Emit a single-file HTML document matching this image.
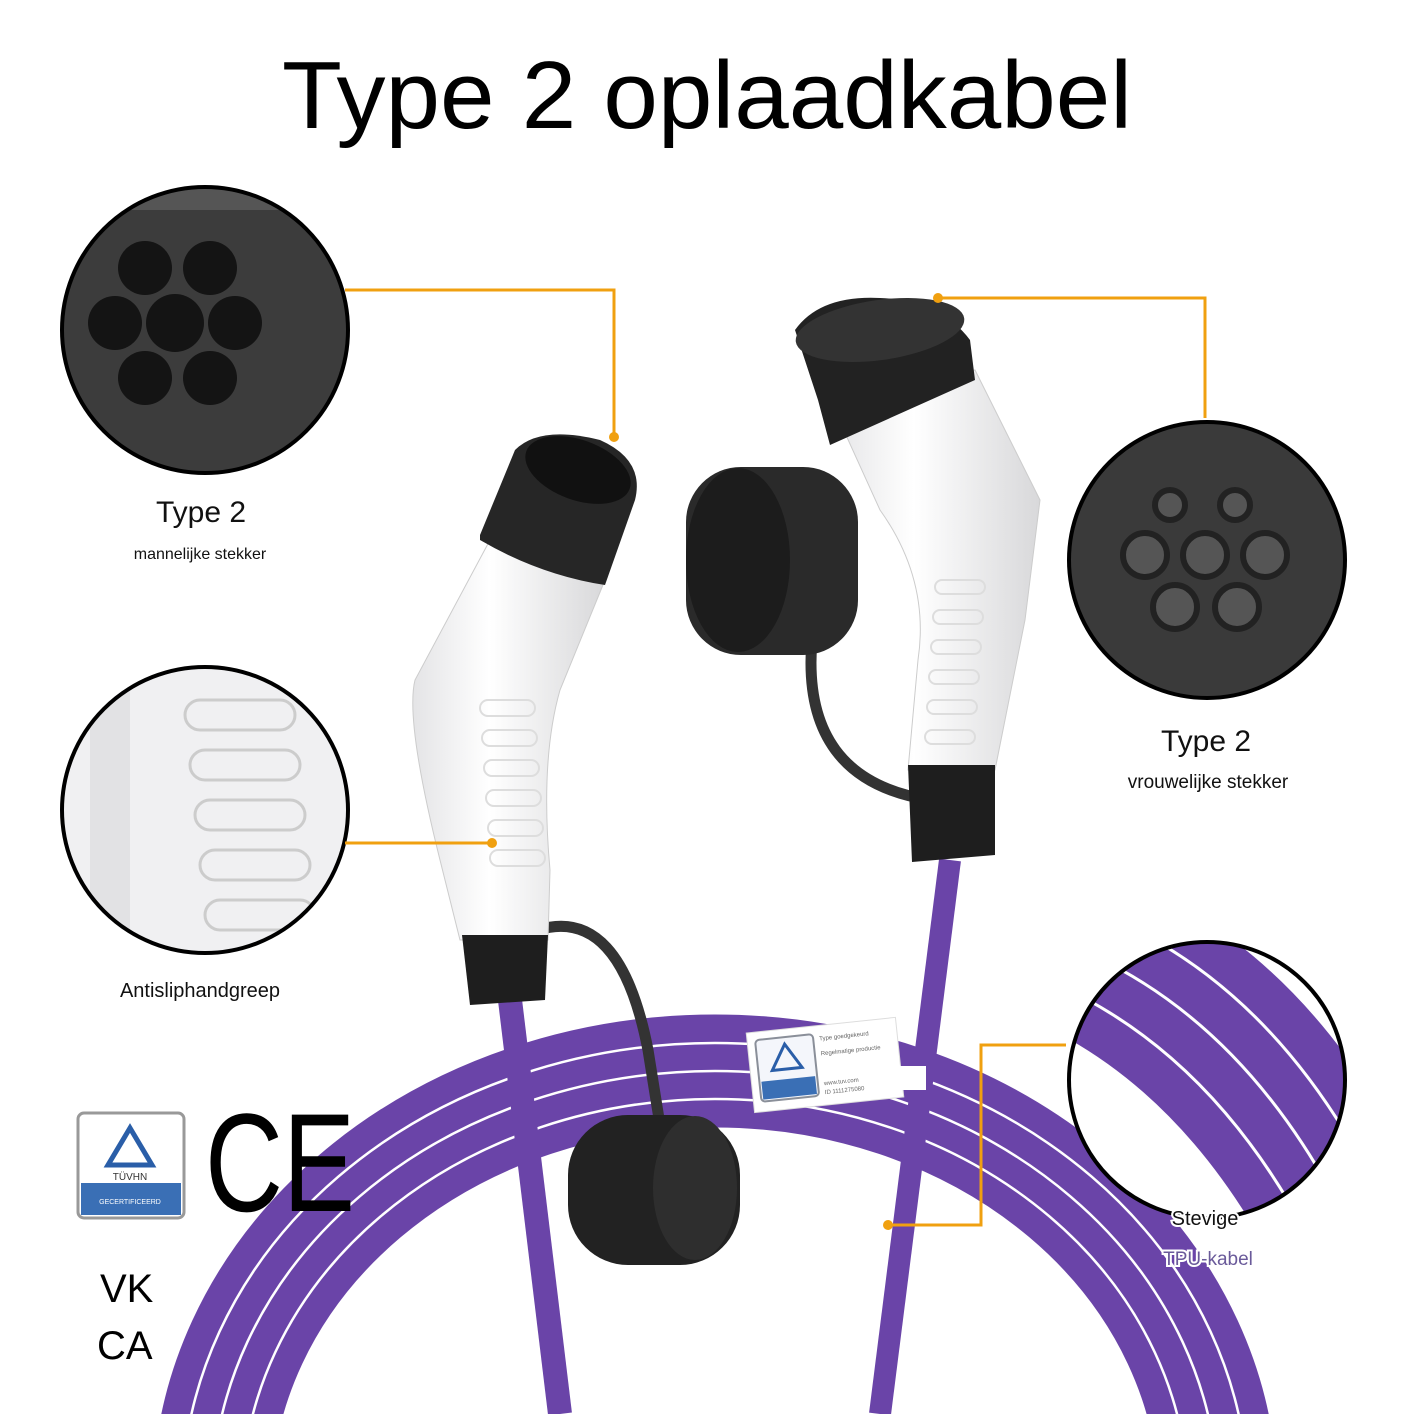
<!DOCTYPE html>
<html><head><meta charset="utf-8"><style>
html,body{margin:0;padding:0;background:#fff;width:1414px;height:1414px;overflow:hidden;}
body{position:relative;font-family:"Liberation Sans",sans-serif;}
svg{display:block}
</style></head><body>
<svg width="1414" height="1414" viewBox="0 0 1414 1414" xmlns="http://www.w3.org/2000/svg" style="position:absolute;left:0;top:0;overflow:hidden">
<defs>
<clipPath id="c1"><circle cx="205" cy="330" r="143"/></clipPath>
<clipPath id="c2"><circle cx="205" cy="810" r="143"/></clipPath>
<clipPath id="c3"><circle cx="1207" cy="560" r="138"/></clipPath>
<clipPath id="c4"><circle cx="1207" cy="1080" r="138"/></clipPath>
<clipPath id="pg"><rect x="0" y="0" width="1414" height="1414"/></clipPath>
<linearGradient id="wh" x1="0" x2="1"><stop offset="0" stop-color="#e4e4e6"/><stop offset=".4" stop-color="#fff"/><stop offset="1" stop-color="#d8d8da"/></linearGradient>
</defs>
<g clip-path="url(#pg)">
<text x="707" y="128" text-anchor="middle" font-size="96" textLength="850" lengthAdjust="spacingAndGlyphs" font-family="Liberation Sans,sans-serif" fill="#000">Type 2 oplaadkabel</text>

<!-- coils -->
<g fill="none" stroke="#6a44a8" stroke-width="29">
<ellipse cx="715" cy="1500" rx="548" ry="471"/>
<ellipse cx="715" cy="1500" rx="518" ry="443"/>
<ellipse cx="715" cy="1500" rx="488" ry="415"/>
<ellipse cx="715" cy="1500" rx="458" ry="387"/>
</g>
<g fill="none" stroke="#fff" stroke-width="2.5">
<ellipse cx="715" cy="1500" rx="533" ry="457"/>
<ellipse cx="715" cy="1500" rx="503" ry="429"/>
<ellipse cx="715" cy="1500" rx="473" ry="401"/>
</g>
<!-- label on coil -->
<g transform="rotate(-6 825 1065)">
<rect x="750" y="1025" width="150" height="80" fill="#fff" stroke="#ddd"/>
<rect x="758" y="1033" width="58" height="62" rx="4" fill="#f4f6fb" stroke="#8a8f99" stroke-width="2"/>
<rect x="760" y="1075" width="54" height="18" fill="#3a6fb5"/>
<path d="M787 1040 L772 1065 L802 1065 Z" fill="none" stroke="#2a5ea8" stroke-width="3"/>
<g font-size="6" fill="#666"><text x="822" y="1040">Type goedgekeurd</text><text x="822" y="1055">Regelmatige productie</text><text x="822" y="1085">www.tuv.com</text><text x="822" y="1094">ID 1111275080</text></g>
</g>

<!-- cables -->
<path d="M510 1000 L560 1414" stroke="#6a44a8" stroke-width="24" fill="none"/>
<path d="M950 860 L880 1414" stroke="#6a44a8" stroke-width="22" fill="none"/>
<rect x="900" y="1066" width="26" height="24" fill="#fff"/>
<path d="M538 930 Q620 905 648 1050 L660 1125" stroke="#333" stroke-width="11" fill="none"/>
<path d="M812 640 Q800 780 930 800" stroke="#333" stroke-width="11" fill="none"/>
<!-- bottom cap -->
<rect x="568" y="1115" width="172" height="150" rx="60" fill="#222"/>
<ellipse cx="695" cy="1188" rx="42" ry="72" fill="#2e2e2e"/>

<!-- left plug -->
<path d="M490 540 L605 580 L560 690 Q540 760 550 870 L548 940 L460 940 L440 860 Q405 720 415 680 Z" fill="url(#wh)" stroke="#ccc"/>
<g fill="none" stroke="#ddd" stroke-width="2"><rect x="480" y="700" width="55" height="16" rx="8"/><rect x="482" y="730" width="55" height="16" rx="8"/><rect x="484" y="760" width="55" height="16" rx="8"/><rect x="486" y="790" width="55" height="16" rx="8"/><rect x="488" y="820" width="55" height="16" rx="8"/><rect x="490" y="850" width="55" height="16" rx="8"/></g>
<path d="M462 935 L548 935 L545 1000 L470 1005 Z" fill="#1e1e1e"/>
<path d="M480 535 L515 450 Q540 425 600 440 Q645 460 635 500 L605 585 Q540 575 480 540 Z" fill="#262626"/>
<ellipse cx="578" cy="470" rx="55" ry="30" fill="#111" transform="rotate(20 578 470)"/>

<!-- top cap -->
<rect x="686" y="467" width="172" height="188" rx="55" fill="#2a2a2a"/>
<ellipse cx="738" cy="560" rx="52" ry="92" fill="#1c1c1c"/>

<!-- right plug -->
<path d="M830 400 L975 370 L1040 500 L1025 620 L995 770 L908 770 L918 660 Q930 580 880 510 Z" fill="url(#wh)" stroke="#ccc"/>
<g fill="none" stroke="#ddd" stroke-width="2"><rect x="935" y="580" width="50" height="14" rx="7"/><rect x="933" y="610" width="50" height="14" rx="7"/><rect x="931" y="640" width="50" height="14" rx="7"/><rect x="929" y="670" width="50" height="14" rx="7"/><rect x="927" y="700" width="50" height="14" rx="7"/><rect x="925" y="730" width="50" height="14" rx="7"/></g>
<path d="M908 765 L995 765 L995 855 L912 862 Z" fill="#1e1e1e"/>
<path d="M795 330 Q820 295 880 298 Q940 300 970 340 L975 380 L830 445 L818 400 Z" fill="#222"/>
<ellipse cx="880" cy="330" rx="85" ry="30" fill="#333" transform="rotate(-8 880 330)"/>

<!-- circles -->
<g clip-path="url(#c1)"><rect x="50" y="180" width="320" height="310" fill="#3c3c3c"/><rect x="50" y="180" width="320" height="30" fill="#555"/>
<g fill="#141414"><circle cx="145" cy="268" r="27"/><circle cx="210" cy="268" r="27"/><circle cx="115" cy="323" r="27"/><circle cx="175" cy="323" r="29"/><circle cx="235" cy="323" r="27"/><circle cx="145" cy="378" r="27"/><circle cx="210" cy="378" r="27"/></g></g>
<circle cx="205" cy="330" r="143" fill="none" stroke="#000" stroke-width="4"/>
<g clip-path="url(#c2)"><rect x="50" y="660" width="320" height="310" fill="#f0f0f2"/><rect x="90" y="660" width="40" height="310" fill="#e2e2e4"/>
<g fill="none" stroke="#ccc" stroke-width="3"><rect x="185" y="700" width="110" height="30" rx="15"/><rect x="190" y="750" width="110" height="30" rx="15"/><rect x="195" y="800" width="110" height="30" rx="15"/><rect x="200" y="850" width="110" height="30" rx="15"/><rect x="205" y="900" width="110" height="30" rx="15"/></g></g>
<circle cx="205" cy="810" r="143" fill="none" stroke="#000" stroke-width="4"/>
<g clip-path="url(#c3)"><rect x="1060" y="415" width="300" height="290" fill="#3a3a3a"/>
<g fill="#555" stroke="#222" stroke-width="6"><circle cx="1170" cy="505" r="15"/><circle cx="1235" cy="505" r="15"/><circle cx="1145" cy="555" r="22"/><circle cx="1205" cy="555" r="22"/><circle cx="1265" cy="555" r="22"/><circle cx="1175" cy="607" r="22"/><circle cx="1237" cy="607" r="22"/></g></g>
<circle cx="1207" cy="560" r="138" fill="none" stroke="#000" stroke-width="4"/>
<g clip-path="url(#c4)"><rect x="1060" y="935" width="300" height="290" fill="#fff"/>
<g fill="none" stroke="#6a44a8" stroke-width="44">
<path d="M1095 890 Q1290 960 1400 1190"/>
<path d="M1065 922 Q1260 990 1370 1222"/>
<path d="M1035 954 Q1230 1022 1340 1254"/>
<path d="M1005 986 Q1200 1054 1310 1286"/>
</g>
<g fill="none" stroke="#fff" stroke-width="3">
<path d="M1080 906 Q1275 975 1385 1206"/>
<path d="M1050 938 Q1245 1006 1355 1238"/>
<path d="M1020 970 Q1215 1038 1325 1270"/>
</g></g>
<circle cx="1207" cy="1080" r="138" fill="none" stroke="#000" stroke-width="4"/>

<!-- connectors -->
<g stroke="#f0a010" stroke-width="3" fill="none">
<path d="M345 290 H614 V437"/><path d="M345 843 H492"/><path d="M938 298 H1205 V418"/><path d="M1066 1045 H981 V1225 H888"/></g>
<g fill="#f0a010"><circle cx="614" cy="437" r="5"/><circle cx="492" cy="843" r="5"/><circle cx="938" cy="298" r="5"/><circle cx="888" cy="1225" r="5"/></g>

<!-- labels -->
<g font-family="Liberation Sans,sans-serif" text-anchor="middle" fill="#111">
<text x="201" y="522" font-size="30">Type 2</text>
<text x="200" y="559" font-size="16">mannelijke stekker</text>
<text x="1206" y="751" font-size="30">Type 2</text>
<text x="1208" y="788" font-size="19">vrouwelijke stekker</text>
<text x="200" y="997" font-size="20">Antisliphandgreep</text>
<text x="1205" y="1225" font-size="20" stroke="#fff" stroke-width="4" paint-order="stroke">Stevige</text>
<text x="1208" y="1265" font-size="19" fill="#6a5a9a" stroke="#fff" stroke-width="4" paint-order="stroke">TPU-kabel</text>
</g>
<!-- TUV -->
<rect x="78" y="1113" width="106" height="105" rx="6" fill="#fff" stroke="#999" stroke-width="3"/>
<rect x="81" y="1183" width="100" height="32" fill="#3a6fb5"/>
<path d="M130 1128 L108 1165 L152 1165 Z" fill="none" stroke="#2a5ea8" stroke-width="5"/>
<text x="130" y="1180" text-anchor="middle" font-size="10" fill="#333">TÜVHN</text>
<text x="130" y="1204" text-anchor="middle" font-size="7" fill="#fff">GECERTIFICEERD</text>
<text x="205" y="1211" font-size="140" textLength="150" lengthAdjust="spacingAndGlyphs" font-family="Liberation Sans,sans-serif" fill="#000">CE</text>
<text x="100" y="1302" font-size="40" fill="#000">VK</text>
<text x="97" y="1359" font-size="40" fill="#000">CA</text>
</g>
</svg>
</body></html>
